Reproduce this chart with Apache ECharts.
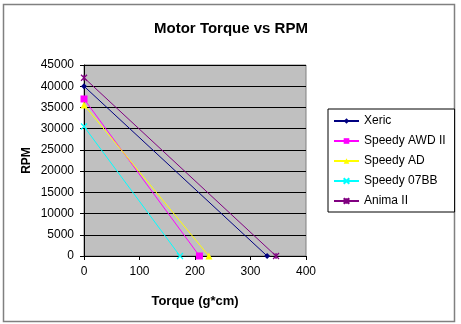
<!DOCTYPE html>
<html><head><meta charset="utf-8">
<script src="https://cdn.jsdelivr.net/npm/echarts@6/dist/echarts.min.js"></script>
<style>html,body{margin:0;padding:0;background:#fff}#c{width:461px;height:324px}</style>
</head><body><div id="c"></div>
<script>
const seriesNames = ['Xeric', 'Speedy AWD II', 'Speedy AD', 'Speedy 07BB', 'Anima II'];
const stallRpm = [40000, 37000, 35600, 30500, 42000];
const stallTorque = [330, 208, 225, 173, 346];
const colors = ['#000080', '#FF00FF', '#FFFF00', '#00FFFF', '#800080'];
const xTicks = [0, 100, 200, 300, 400];
const yTicks = [0, 5000, 10000, 15000, 20000, 25000, 30000, 35000, 40000, 45000];

const xPath = 'path://M0,0L10,10M10,0L0,10';
const starPath = 'path://M0,0L10,10M10,0L0,10M5,0L5,10';
const symbols = ['diamond', 'rect', 'triangle', xPath, starPath];
const sizes = [6, 7, 7, 6, 6];

const chart = echarts.init(document.getElementById('c'));
const font = 'Arial, "Liberation Sans", sans-serif';
chart.setOption({
  animation: false,
  title: { text: 'Motor Torque vs RPM', left: 226, top: 16, textAlign: 'center',
    textStyle: { fontFamily: font, fontSize: 15, fontWeight: 'bold', color: '#000' } },
  graphic: [{ type: 'rect', shape: { x: 3.5, y: 4.5, width: 451, height: 317 },
    style: { fill: 'none', stroke: '#808080', lineWidth: 1.5 }, z: -1 }],
  grid: { left: 84, right: 155, top: 65, bottom: 68, show: true, backgroundColor: '#C0C0C0', borderColor: '#808080', borderWidth: 1 },
  legend: {
    orient: 'vertical', left: 328, top: 109, itemWidth: 25, itemHeight: 7, itemGap: 8,
    padding: [6, 9, 5, 5],
    borderColor: '#000', borderWidth: 1, backgroundColor: '#fff',
    textStyle: { fontFamily: font, fontSize: 12, color: '#000', lineHeight: 12 },
    data: seriesNames
  },
  xAxis: {
    type: 'value', min: 0, max: 400, interval: 100,
    name: 'Torque (g*cm)', nameLocation: 'middle', nameGap: 39,
    nameTextStyle: { fontFamily: font, fontSize: 13, fontWeight: 'bold', color: '#000' },
    axisLine: { lineStyle: { color: '#000' } },
    axisTick: { show: true, inside: false, length: 4, lineStyle: { color: '#000' } },
    axisLabel: { fontFamily: font, fontSize: 12, color: '#000', margin: 10 },
    splitLine: { show: false }
  },
  yAxis: {
    type: 'value', min: 0, max: 45000, interval: 5000,
    name: 'RPM', nameLocation: 'middle', nameGap: 51, nameRotate: 90,
    nameTextStyle: { fontFamily: font, fontSize: 12, fontWeight: 'bold', color: '#000' },
    axisLine: { show: true, lineStyle: { color: '#000' } },
    axisTick: { show: true, length: 4, lineStyle: { color: '#000' } },
    axisLabel: { fontFamily: font, fontSize: 12, color: '#000', margin: 10, formatter: v => String(v) },
    splitLine: { show: true, lineStyle: { color: '#000', width: 1 } }
  },
  series: seriesNames.map((n, i) => ({
    name: n, type: 'line',
    data: [[0, stallRpm[i]], [stallTorque[i], 0]],
    symbol: symbols[i], symbolSize: sizes[i], showSymbol: true,
    itemStyle: { color: colors[i], borderColor: colors[i], borderWidth: (i >= 3 ? 1.2 : 0) },
    lineStyle: { color: colors[i], width: 1 },
    emphasis: { disabled: true }
  }))
});
</script></body></html>
